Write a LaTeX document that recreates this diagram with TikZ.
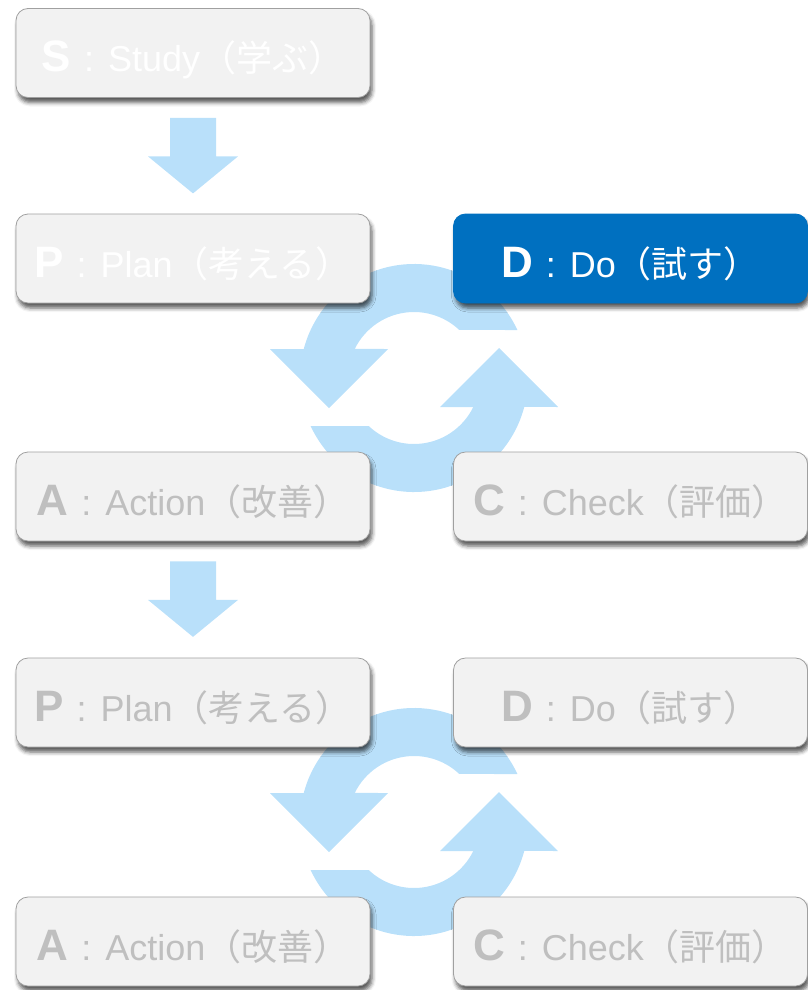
\documentclass[tikz,border=0pt]{standalone}
\usepackage{fontspec}
\setmainfont{Liberation Sans}
\newfontfamily\cjk{Noto Sans CJK JP}
\usetikzlibrary{shadows.blur,backgrounds}
\definecolor{ringblue}{RGB}{185,224,250}
\definecolor{boxgray}{RGB}{242,242,242}
\definecolor{edgegray}{RGB}{160,160,160}
\definecolor{txtgray}{RGB}{191,191,191}
\definecolor{doblue}{RGB}{0,112,192}
\newcommand{\pdcaLabel}[3]{{\fontsize{44}{44}\selectfont\bfseries #1}\hspace{13pt}{\fontsize{36}{40}\selectfont :}\hspace{14pt}{\fontsize{36}{40}\selectfont #2}{\cjk\fontsize{36}{40}\selectfont （#3）}}
\begin{document}
\begin{tikzpicture}[x=1pt,y=-1pt,
  card/.style={rounded corners=12pt, minimum width=354pt, minimum height=89pt,
    inner sep=0pt, text height=37pt, text depth=0pt,
    fill=boxgray, draw=edgegray, line width=0.8pt,
    blur shadow={shadow xshift=2pt, shadow yshift=-5pt, shadow blur radius=4pt, shadow opacity=65}},
  faint/.style={card, text=white},
  dim/.style={card, text=txtgray},
  active/.style={card, fill=doblue, draw=doblue, text=white},
  ringpart/.style={fill=ringblue, draw=none},
  blockarrow/.style={fill=ringblue, draw=none}]
\useasboundingbox (0,0) rectangle (808,990);

% cards
\node[faint]  (S)  at (193,53)    {\pdcaLabel{S}{Study}{学ぶ}};
\node[faint]  (P1) at (193,258.5) {\pdcaLabel{P}{Plan}{考える}};
\node[active] (D1) at (630.5,258.5) {\pdcaLabel{D}{Do}{試す}};
\node[dim]    (A1) at (193,496.5) {\pdcaLabel{A}{Action}{改善}};
\node[dim]    (C1) at (630.5,496.5) {\pdcaLabel{C}{Check}{評価}};
\node[dim]    (P2) at (193,702.5) {\pdcaLabel{P}{Plan}{考える}};
\node[dim]    (D2) at (630.5,702.5) {\pdcaLabel{D}{Do}{試す}};
\node[dim]    (A2) at (193,941.5) {\pdcaLabel{A}{Action}{改善}};
\node[dim]    (C2) at (630.5,941.5) {\pdcaLabel{C}{Check}{評価}};

% cycle rings behind the cards
\begin{scope}[on background layer]
  \foreach \cy in {378,822} {
    \foreach \rot in {0,180} {
      \begin{scope}[shift={(414,\cy)}, rotate=\rot]
        \fill[ringpart] (-24.9:114) arc[start angle=-24.9, end angle=-165.3, radius=114]
          -- (-144,-29) -- (-85,30) -- (-26,-29)
          -- (-153.9:66) arc[start angle=-153.9, end angle=-46.7, radius=66] -- cycle;
      \end{scope}
    }
  }
\end{scope}

% block arrows between stages
\foreach \from in {S,A1} {
  \begin{scope}[shift={(\from.south)}]
    \fill[blockarrow] (-23,20) -- (23,20) -- (23,58.5) -- (45,58.5) -- (0,95.5)
      -- (-45,58.5) -- (-23,58.5) -- cycle;
  \end{scope}
}
\end{tikzpicture}
\end{document}
